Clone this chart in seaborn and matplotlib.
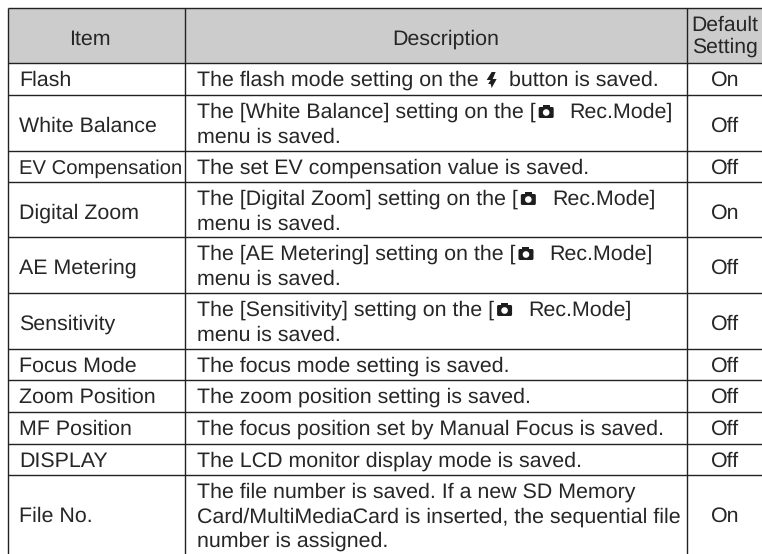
import numpy as np
import seaborn as sns
import matplotlib.pyplot as plt
from matplotlib.colors import ListedColormap
from matplotlib.patches import Circle, FancyBboxPatch, Polygon, Rectangle

items = ['Flash', 'White Balance', 'EV Compensation', 'Digital Zoom', 'AE Metering', 'Sensitivity',
         'Focus Mode', 'Zoom Position', 'MF Position', 'DISPLAY', 'File No.']
defaults = ['On', 'Off', 'Off', 'On', 'Off', 'Off', 'Off', 'Off', 'Off', 'Off', 'On']
# @ = camera icon, # = flash icon
descriptions = [
    ['The flash mode setting on the # button is saved.'],
    ['The [White Balance] setting on the [@Rec.Mode]', 'menu is saved.'],
    ['The set EV compensation value is saved.'],
    ['The [Digital Zoom] setting on the [@Rec.Mode]', 'menu is saved.'],
    ['The [AE Metering] setting on the [@Rec.Mode]', 'menu is saved.'],
    ['The [Sensitivity] setting on the [@Rec.Mode]', 'menu is saved.'],
    ['The focus mode setting is saved.'],
    ['The zoom position setting is saved.'],
    ['The focus position set by Manual Focus is saved.'],
    ['The LCD monitor display mode is saved.'],
    ['The file number is saved. If a new SD Memory',
     'Card/MultiMediaCard is inserted, the sequential file',
     'number is assigned.'],
]

# layout, in pixels of the picture
row_px = [8, 55, 32, 56, 31, 55, 56, 56, 31, 32, 32, 31, 79]
col_px = [8, 177, 502, 75]
mid_base = {1: 23, 2: 37, 3: 47}
line_gap = 24.5
text_col = '#262626'
line_col = '#222222'
fs = 15.4

sns.set_theme(style='white')
plt.rcParams['font.family'] = ['Liberation Sans', 'DejaVu Sans']
plt.rcParams['text.hinting'] = 'no_hinting'

fig = plt.figure(figsize=(7.62, 5.54), dpi=100)
ax = fig.add_axes([0, 0, 1, 1])

# header shade stretched to pixel sizes
shade = np.zeros((len(row_px), len(col_px)))
shade[1, 1:] = 1
grid = np.repeat(np.repeat(shade, row_px, axis=0), col_px, axis=1)
grid[8:63, 8:] = 1
sns.heatmap(grid, ax=ax, cmap=ListedColormap(['white', '#cccccc']), vmin=0, vmax=1,
            cbar=False, xticklabels=False, yticklabels=False)
ax.set_xlim(0, sum(col_px))
ax.set_ylim(sum(row_px), 0)

ys = np.cumsum(row_px)
ax.hlines(ys[:-1] + 0.2, 7.5, 762, color=line_col, lw=1.0)
ax.vlines([7.6, 184.6, 687.2], 8, 554, color=line_col, lw=1.0)


def put(x, y, s, ha='left', size=fs):
    return ax.text(x, y, s, fontsize=size, color=text_col, ha=ha, va='baseline')


def camera(x, base):
    ax.add_patch(FancyBboxPatch((x + 1, base - 11), 15, 11, boxstyle='round,pad=0,rounding_size=1.5',
                                fc='#1e1e1e', ec='none'))
    ax.add_patch(Rectangle((x + 5, base - 13), 7, 3, fc='#1e1e1e', ec='none'))
    ax.add_patch(Circle((x + 8.5, base - 5.5), 3.3, fc='white', ec='none'))


def flash(x, base):
    pts = [(x + 6, base - 14), (x + 1, base - 6), (x + 5, base - 6), (x + 2.5, base - 2),
           (x + 5, base - 2), (x + 6, base + 2), (x + 11, base - 7), (x + 7, base - 7),
           (x + 10, base - 14)]
    ax.add_patch(Polygon(pts, closed=True, fc='#1e1e1e', ec='none'))


def right_end(t):
    return t.get_window_extent(fig.canvas.get_renderer()).x1


def put_line(x, y, line):
    if '@' in line:
        a, b = line.split('@')
        end = right_end(put(x, y, a))
        camera(end + 2, y)
        put(end + 34, y, b)
    elif '#' in line:
        a, b = line.split(' # ')
        end = right_end(put(x, y, a))
        flash(end + 7, y)
        put(end + 30, y, b)
    else:
        put(x, y, line)


# header
put(90, 45, 'Item', ha='center')
put(446, 45, 'Description', ha='center')
put(725, 31, 'Default', ha='center', size=15.2)
put(725, 53, 'Setting', ha='center', size=15.2)

# body
for i, item in enumerate(items):
    top = ys[i + 1]
    lines = descriptions[i]
    n = len(lines)
    put(19, top + mid_base[n], item, size=14.6 if item == 'EV Compensation' else fs)
    put(725, top + mid_base[n], defaults[i], ha='center')
    for k, line in enumerate(lines):
        put_line(197, top + 23 + k * line_gap, line)

fig.savefig('out.png', dpi=100)
